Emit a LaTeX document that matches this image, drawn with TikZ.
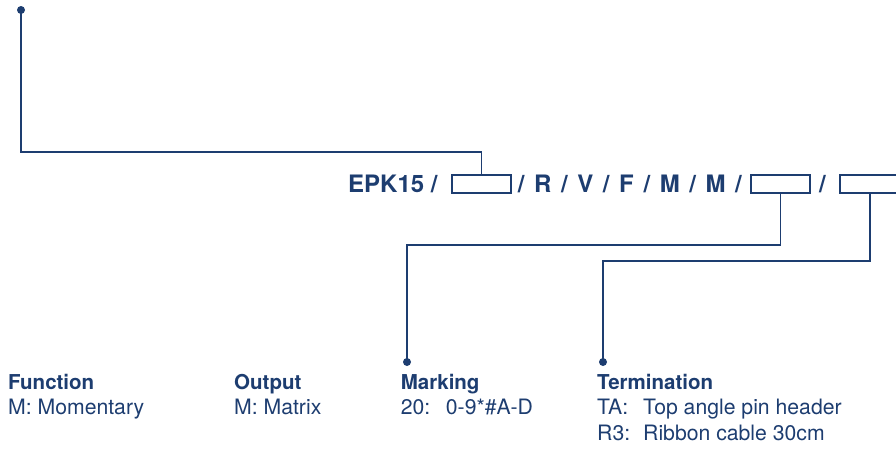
\documentclass[tikz,border=0pt]{standalone}
\usepackage{fontspec}
\setmainfont{TeX Gyre Heros}
\definecolor{navy}{RGB}{29,61,112}
\begin{document}
\begin{tikzpicture}[x=1pt,y=-1pt,
  conn/.style={draw=navy,line width=1.4pt},
  slot/.style={draw=navy,line width=1.4pt,minimum width=59pt,minimum height=18pt,inner sep=0pt,fill=white},
  pin/.style={circle,fill=navy,inner sep=0pt,minimum size=8pt},
  code/.style={anchor=base west,inner sep=0pt,text=navy,font=\fontsize{24}{28}\selectfont\bfseries},
  head/.style={anchor=base west,inner sep=0pt,text=navy,font=\fontsize{20.5}{25}\selectfont\bfseries},
  item/.style={anchor=base west,inner sep=0pt,text=navy,font=\fontsize{21.2}{25}\selectfont}]
\useasboundingbox (0,0) rectangle (896,448);
% code row
\node[code] (t1) at (348,192) {EPK15 /};
\node[code] (t2) at (517.7,192) {\spaceskip=0.4em /~R~/~V~/~F~/~M~/~M~/};
\node[code] (t3) at (819,192) {/};
\node[slot] (b1) at (481.5,184) {};
\node[slot] (b2) at (780.5,184) {};
\node[slot,minimum width=60pt] (b3) at (870,184) {};
% pins
\node[pin] (d1) at (21,10) {};
\node[pin] (d2) at (407,362) {};
\node[pin] (d3) at (603,362) {};
\coordinate (k1) at (0,152);
\coordinate (k2) at (0,245);
\coordinate (k3) at (0,261);
% connectors
\draw[conn] (d1.center) -- (d1.center |- k1) -- (b1.north |- k1) -- (b1.north);
\draw[conn] (b2.south) -- (b2.south |- k2) -- (d2.center |- k2) -- (d2.center);
\draw[conn] (b3.south) -- (b3.south |- k3) -- (d3.center |- k3) -- (d3.center);
% legend
\node[head] (h1) at (8,389) {Function};
\node[item] (f1) at (8,414) {M: Momentary};
\node[head] (h2) at (234,389) {Output};
\node[item] (o1) at (234,414) {M: Matrix};
\node[head] (h3) at (400.7,389) {Marking};
\node[item] (m1a) at (400.7,414) {20:};
\node[item] (m1b) at (445.7,414) {0-9*\#A-D};
\node[head] (h4) at (597,389) {Termination};
\node[item] (e1a) at (597,414) {TA:};
\node[item] (e1b) at (643,414) {Top angle pin header};
\node[item] (e2a) at (597,440) {R3:};
\node[item] (e2b) at (643,440) {Ribbon cable 30cm};
\end{tikzpicture}
\end{document}
